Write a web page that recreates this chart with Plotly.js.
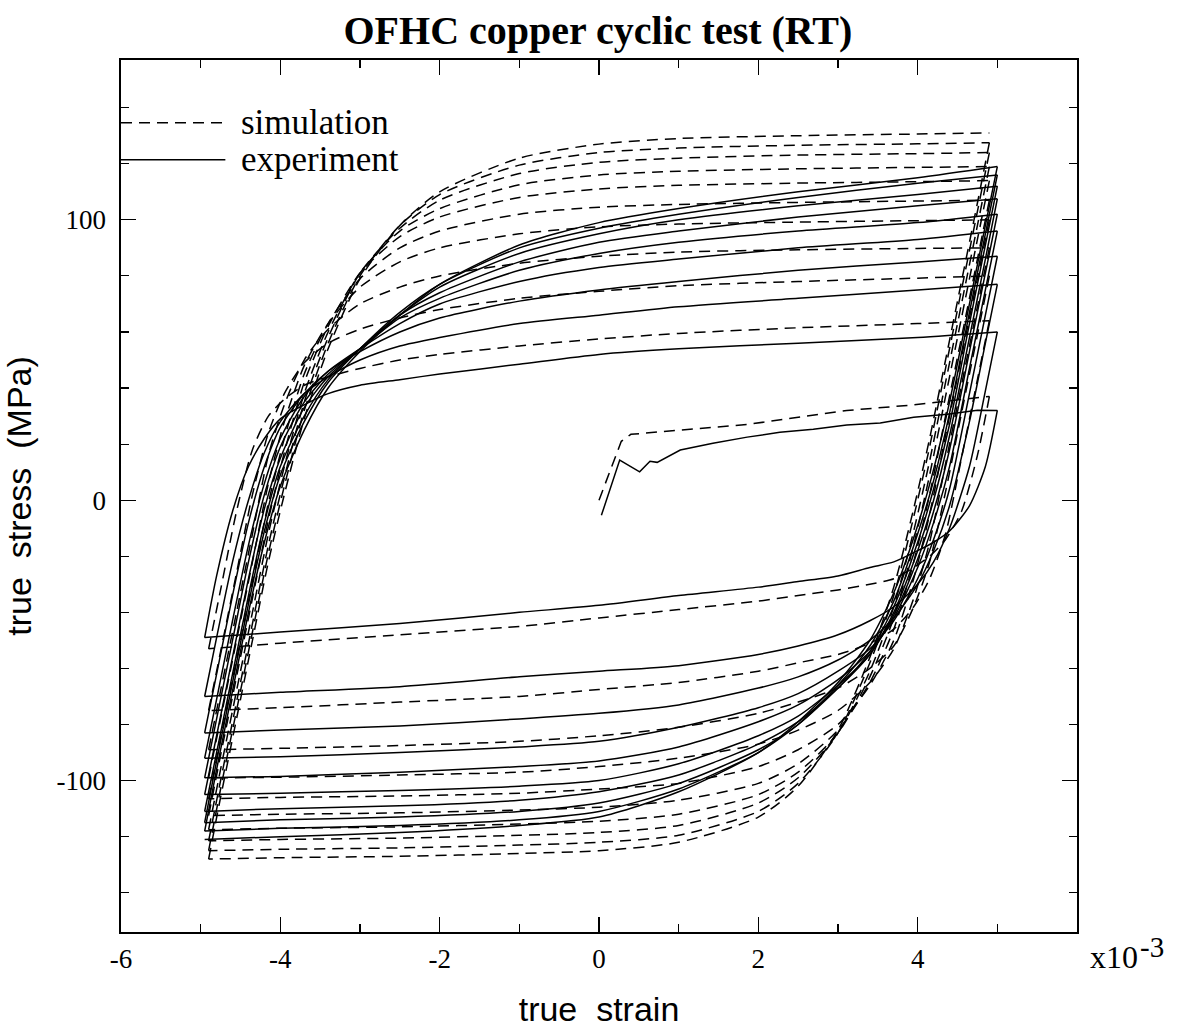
<!DOCTYPE html>
<html>
<head>
<meta charset="utf-8">
<script src="https://cdn.plot.ly/plotly-3.0.1.min.js"></script>
<style>
  html, body { margin: 0; padding: 0; background: #ffffff; }
  #chart { width: 1177px; height: 1036px; }
</style>
</head>
<body>
<div id="chart"></div>
<script>
// Strain values are in units of 1e-3, stress in MPa.

// ---- experiment ----
const expLoadStrain = [0.03, 0.26, 0.51, 0.64, 0.73, 1.02, 1.43, 1.86, 2.27, 2.69, 3.11, 3.53, 3.95, 4.37, 4.75, 5.0];
const expLoadStress = [-5.4, 14.3, 10.1, 13.9, 13.5, 17.9, 20.3, 22.5, 24.2, 25.3, 26.8, 27.5, 29.6, 30.7, 32.1, 32.0];

// strain stations of the reversed branches
const expDownStrain = [5.0, 4.85, 4.65, 4.4, 4.2, 4.0, 3.7, 3.4, 3.0, 2.5, 2.0, 1.0, 0.0, -1.0, -2.5, -4.0, -4.95];
const expUpStrain   = [-4.95, -4.8, -4.6, -4.4, -4.2, -4.0, -3.7, -3.4, -3.0, -2.5, -2.0, -1.0, 0.0, 1.0, 2.5, 4.0, 5.0];

// tension -> compression branches (stress at expDownStrain)
const expDown = [
  [32, 12, -2, -11, -15, -18, -22, -24, -27, -29, -31, -34, -37.5, -40, -44, -47, -49],
  [60, 39, 12, -10, -22, -30, -38, -43, -48, -52, -55, -59, -61, -63, -66.5, -68.5, -70],
  [77, 56, 28, -2, -18, -30, -42, -50, -57, -63, -67, -73, -76, -78, -80.5, -82, -83],
  [87, 66, 38, 4, -14, -28, -43, -53, -61, -69, -74, -81, -86, -88, -90, -91.5, -92],
  [96, 75, 47, 12, -8, -24, -42, -54, -64, -73, -79, -88, -93, -95, -97, -98.5, -99],
  [102, 81, 53, 18, -4, -21, -41, -55, -66, -77, -84, -94, -100, -102, -103.5, -104.5, -105],
  [107.5, 86, 58, 23, 0, -18, -40, -55, -67, -79, -87, -98, -104, -107, -109, -110, -111],
  [112, 91, 63, 27, 4, -15, -38, -54, -67, -80, -89, -101, -108, -111, -113, -114, -115],
  [116, 95, 67, 31, 7, -12, -36, -52, -66, -80, -90, -103, -111, -114, -116, -117, -118],
  [119, 98, 70, 35, 11, -9, -33, -50, -65, -79, -90, -104, -113, -116, -118.5, -120, -121]
];
// compression -> tension branches (stress at expUpStrain)
const expUp = [
  [-49, -27, -4, 12, 22, 29, 34, 38, 41, 43, 45, 48.5, 52, 54, 56, 58, 60],
  [-70, -49, -22, 0, 17, 28, 38, 44, 50, 55, 58, 63, 66, 69, 72, 75, 77],
  [-83, -62, -34, -8, 12, 26, 38, 46, 53, 60, 65, 71, 75, 78, 82, 85, 87],
  [-92, -71, -43, -16, 6, 22, 37, 46, 54, 63, 70, 78, 83, 86, 90, 93, 96],
  [-99, -78, -50, -22, 2, 19, 35, 45, 54, 65, 72, 82, 88, 92, 96, 99, 102],
  [-105, -84, -56, -28, -3, 15, 33, 44, 54, 66, 74, 85, 92, 96, 101, 105, 107.5],
  [-111, -90, -62, -34, -8, 12, 30, 43, 54, 66, 76, 88, 95, 100, 105, 109, 112],
  [-115, -93, -65, -37, -11, 9, 28, 42, 54, 67, 77, 90, 97, 102, 108, 113, 116],
  [-118, -96, -68, -40, -15, 5, 25, 40, 53, 66, 77, 91, 99, 104, 110, 115, 119]
];

// ---- simulation ----
const simLoadStrain = [0.0, 0.28, 0.4, 1.0, 1.86, 3.11, 3.95, 4.9];
const simLoadStress = [0.0, 21.0, 23.5, 25.0, 27.0, 32.0, 34.0, 37.0];

const simDownStrain = [4.9, 4.75, 4.55, 4.35, 4.15, 3.95, 3.7, 3.4, 3.0, 2.5, 2.0, 1.0, 0.0, -1.0, -2.5, -4.0, -4.9];
const simUpStrain   = [-4.9, -4.75, -4.55, -4.35, -4.15, -3.95, -3.7, -3.4, -3.0, -2.5, -2.0, -1.0, 0.0, 1.0, 2.5, 4.0, 4.9];

const simDown = [
  [37, 16, -4, -14, -20, -24, -28, -30, -32, -34, -36, -39, -42, -45, -48, -51, -53],
  [64, 43, 15, -12, -28, -38, -46, -51, -55, -58, -61, -65, -67.5, -70, -72, -74, -75],
  [80, 59, 31, 3, -22, -38, -52, -60, -67, -72, -76, -81, -84, -86, -87.5, -88.5, -89],
  [90, 69, 41, 13, -15, -35, -53, -65, -75, -82, -87, -92, -95, -97, -98, -98.8, -99],
  [100, 79, 51, 23, -5, -28, -50, -66, -80, -89, -95, -101, -103, -104.5, -105.5, -106, -106.5],
  [107, 86, 58, 30, 2, -22, -46, -65, -82, -94, -101, -107, -109.5, -110.5, -111.5, -112, -112.5],
  [114, 93, 65, 37, 9, -16, -42, -63, -83, -97, -105, -112, -114.5, -115.5, -116.5, -117, -117.5],
  [119, 98, 70, 42, 14, -11, -38, -61, -83, -99, -108, -116, -118.5, -119.5, -120.5, -121, -121.5],
  [124, 103, 75, 47, 19, -6, -34, -58, -83, -101, -111, -119.5, -122, -123, -124, -124.5, -125],
  [127.5, 106, 78, 50, 22, -3, -31, -56, -82, -102, -113, -122, -125, -126, -127, -127.5, -128]
];
const simUp = [
  [-53, -32, -4, 18, 30, 36, 41, 44, 47, 50, 52, 55, 57.5, 59.5, 61.5, 63, 64],
  [-75, -54, -26, 2, 24, 38, 49, 56, 61, 65, 68, 72, 74.5, 76.5, 78, 79.2, 80],
  [-89, -68, -40, -12, 16, 34, 50, 61, 70, 76, 80, 84.5, 87, 88.5, 89.3, 89.8, 90],
  [-99, -78, -50, -22, 6, 28, 48, 63, 76, 85, 90, 95, 97.5, 98.5, 99.2, 99.7, 100],
  [-106.5, -85, -57, -29, -1, 22, 45, 63, 79, 90, 96, 102, 104.5, 105.5, 106.2, 106.7, 107],
  [-112.5, -91, -63, -35, -7, 17, 42, 62, 81, 94, 101, 108, 111, 112.3, 113.1, 113.6, 114],
  [-117.5, -96, -68, -40, -12, 12, 38, 60, 81, 96, 104, 112.5, 116, 117.3, 118.2, 118.7, 119],
  [-121.5, -100, -72, -44, -16, 8, 35, 58, 81, 97, 107, 116.5, 120.5, 122, 123.1, 123.6, 124],
  [-125, -103, -75, -47, -19, 5, 32, 56, 80, 98, 109, 119.5, 124, 125.6, 126.6, 127.1, 127.5],
  [-128, -106, -78, -50, -22, 2, 29, 54, 79, 98, 110, 122, 127, 129, 130, 130.6, 131]
];

const dashStyle = '11px,7px';
const lineWidth = 1.5;

// one smoothed trace per branch; branch ends meet at the reversal points
function branchTraces(loadX, loadY, downX, downs, upX, ups, dash) {
  const line = { color: '#000000', width: lineWidth, shape: 'spline', smoothing: 0.7 };
  if (dash) line.dash = dash;
  const mk = (x, y) => ({ x, y, mode: 'lines', line, showlegend: false, hoverinfo: 'skip' });
  const out = [mk(loadX, loadY)];
  for (let k = 0; k < downs.length; k++) {
    out.push(mk(downX, downs[k]));
    if (k < ups.length) out.push(mk(upX, ups[k]));
  }
  return out;
}

const traces = [
  ...branchTraces(simLoadStrain, simLoadStress, simDownStrain, simDown, simUpStrain, simUp, dashStyle),
  ...branchTraces(expLoadStrain, expLoadStress, expDownStrain, expDown, expUpStrain, expUp, null)
];
// the first loading paths keep their sharp kinks
traces[0].line = { color: '#000000', width: lineWidth, shape: 'linear', dash: dashStyle };
traces[simDown.length + simUp.length + 1].line = { color: '#000000', width: lineWidth, shape: 'linear' };

const serif = '"Liberation Serif", "DejaVu Serif", serif';
const sans = '"Liberation Sans", Arial, sans-serif';

const layout = {
  width: 1177, height: 1036,
  margin: { l: 121, r: 100, t: 60, b: 104 },
  paper_bgcolor: '#ffffff', plot_bgcolor: '#ffffff',
  title: {
    text: '<b>OFHC copper cyclic test (RT)</b>',
    font: { family: serif, size: 40, color: '#000000' },
    x: 0.508, xanchor: 'center', y: 0.971, yanchor: 'middle'
  },
  xaxis: {
    range: [-6, 6], showgrid: false, zeroline: false,
    showline: true, linecolor: '#000000', linewidth: 1.6, mirror: 'ticks',
    ticks: 'inside', ticklen: 15, tickwidth: 1.3, tickcolor: '#000000',
    tickvals: [-6, -4, -2, 0, 2, 4], ticktext: ['-6', '-4', '-2', '0', '2', '4'],
    minor: { dtick: 1, ticks: 'inside', ticklen: 8, tickwidth: 1.2, tickcolor: '#000000', showgrid: false },
    tickfont: { family: serif, size: 27, color: '#000000' },
    ticklabelstandoff: 2,
    title: { text: 'true  strain', font: { family: sans, size: 34, color: '#000000' }, standoff: 24 }
  },
  yaxis: {
    range: [-154, 157], showgrid: false, zeroline: false,
    showline: true, linecolor: '#000000', linewidth: 1.6, mirror: 'ticks',
    ticks: 'inside', ticklen: 15, tickwidth: 1.3, tickcolor: '#000000',
    tickvals: [-100, 0, 100], ticktext: ['-100', '0', '100'],
    minor: { dtick: 20, ticks: 'inside', ticklen: 8, tickwidth: 1.2, tickcolor: '#000000', showgrid: false },
    tickfont: { family: serif, size: 27, color: '#000000' },
    ticklabelstandoff: 8,
    title: { text: 'true  stress  (MPa)', font: { family: sans, size: 34, color: '#000000' }, standoff: 14 }
  },
  shapes: [
    { type: 'line', xref: 'x', yref: 'y', x0: -6, x1: -4.69, y0: 134.6, y1: 134.6,
      line: { color: '#000000', width: lineWidth, dash: dashStyle } },
    { type: 'line', xref: 'x', yref: 'y', x0: -6, x1: -4.69, y0: 121.4, y1: 121.4,
      line: { color: '#000000', width: lineWidth } }
  ],
  annotations: [
    { xref: 'x', yref: 'y', x: -4.52, y: 134.6, xanchor: 'left', yanchor: 'middle', showarrow: false,
      text: 'simulation', font: { family: serif, size: 35, color: '#000000' } },
    { xref: 'x', yref: 'y', x: -4.52, y: 121.4, xanchor: 'left', yanchor: 'middle', showarrow: false,
      text: 'experiment', font: { family: serif, size: 35, color: '#000000' } },
    { xref: 'paper', yref: 'paper', x: 1.012, y: -0.029, xanchor: 'left', yanchor: 'middle', showarrow: false,
      text: 'x10', font: { family: serif, size: 32, color: '#000000' } },
    { xref: 'paper', yref: 'paper', x: 1.0635, y: -0.0175, xanchor: 'left', yanchor: 'middle', showarrow: false,
      text: '-3', font: { family: serif, size: 29, color: '#000000' } }
  ]
};

Plotly.newPlot('chart', traces, layout, { staticPlot: true, displayModeBar: false });
</script>
</body>
</html>
